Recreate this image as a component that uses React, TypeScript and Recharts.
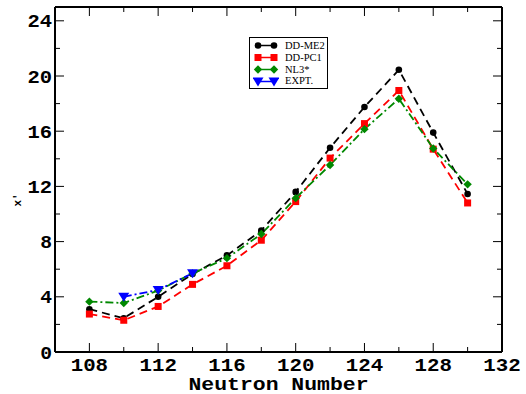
import { LineChart, Line, XAxis, YAxis, Legend } from "recharts";

const neutronNumbers = [108, 110, 112, 114, 116, 118, 120, 122, 124, 126, 128, 130];
const ddme2 = [3.1, 2.45, 4.0, 5.65, 7.0, 8.8, 11.6, 14.8, 17.75, 20.45, 15.9, 11.45];
const ddpc1 = [2.75, 2.3, 3.3, 4.9, 6.25, 8.1, 10.9, 14.05, 16.55, 18.95, 14.7, 10.8];
const nl3 = [3.65, 3.55, 4.45, 5.7, 6.8, 8.55, 11.15, 13.55, 16.15, 18.35, 14.75, 12.15];
const expt = [null, 4.0, 4.5, 5.7, null, null, null, null, null, null, null, null];

const xTicks = [108, 110, 112, 114, 116, 118, 120, 122, 124, 126, 128, 130, 132];
const yTicks = [0, 2, 4, 6, 8, 10, 12, 14, 16, 18, 20, 22, 24];

const data = neutronNumbers.map((n, i) => ({
  n,
  ddme2: ddme2[i],
  ddpc1: ddpc1[i],
  nl3: nl3[i],
  expt: expt[i],
}));

const W = 526;
const H = 394;
const L = 55;
const T = 7;
const R = 502;
const B = 352;

const tickFont = {
  fontFamily: "'Liberation Mono', 'DejaVu Sans Mono', monospace",
  fontWeight: "bold" as const,
  fontSize: 18,
  fill: "#000",
};

// the reference font is wider than Liberation Mono, so stretch each label a little
const charWidth = 12.8;

const BottomTick = ({ x, payload }: any) => {
  const major = payload.value % 4 === 0;
  const label = String(payload.value);
  return (
    <g>
      <line x1={x} x2={x} y1={B} y2={B - (major ? 9 : 5)} stroke="#000" strokeWidth={1} />
      {major && (
        <text
          x={x}
          y={371}
          textAnchor="middle"
          textLength={label.length * charWidth - 1}
          lengthAdjust="spacingAndGlyphs"
          {...tickFont}
        >
          {label}
        </text>
      )}
    </g>
  );
};

const TopTick = ({ x, payload }: any) => {
  const major = payload.value % 4 === 0;
  return <line x1={x} x2={x} y1={T} y2={T + (major ? 9 : 5)} stroke="#000" strokeWidth={1} />;
};

const LeftTick = ({ y, payload }: any) => {
  const major = payload.value % 4 === 0;
  const label = String(payload.value);
  return (
    <g>
      <line x1={L} x2={L + (major ? 9 : 5)} y1={y} y2={y} stroke="#000" strokeWidth={1} />
      {major && (
        <text
          x={52}
          y={y + 6.5}
          textAnchor="end"
          textLength={label.length * charWidth - 1}
          lengthAdjust="spacingAndGlyphs"
          {...tickFont}
        >
          {label}
        </text>
      )}
    </g>
  );
};

const RightTick = ({ y, payload }: any) => {
  const major = payload.value % 4 === 0;
  return <line x1={R} x2={R - (major ? 9 : 5)} y1={y} y2={y} stroke="#000" strokeWidth={1} />;
};

const CircleDot = ({ cx, cy }: any) =>
  cx == null || cy == null ? null : <circle cx={cx} cy={cy} r={3.3} fill="#000" />;

const SquareDot = ({ cx, cy }: any) =>
  cx == null || cy == null ? null : <rect x={cx - 3.5} y={cy - 3.5} width={7} height={7} fill="#ff0000" />;

const DiamondDot = ({ cx, cy }: any) =>
  cx == null || cy == null ? null : (
    <polygon points={`${cx},${cy - 4.2} ${cx + 4.2},${cy} ${cx},${cy + 4.2} ${cx - 4.2},${cy}`} fill="#008800" />
  );

const TriangleDot = ({ cx, cy }: any) =>
  cx == null || cy == null ? null : (
    <polygon points={`${cx - 5.5},${cy - 4} ${cx + 5.5},${cy - 4} ${cx},${cy + 5}`} fill="#0000ff" />
  );

const legendItems = [
  { name: "DD-ME2", color: "#000", Dot: CircleDot },
  { name: "DD-PC1", color: "#ff0000", Dot: SquareDot },
  { name: "NL3*", color: "#008800", Dot: DiamondDot },
  { name: "EXPT.", color: "#0000ff", Dot: TriangleDot },
];

const LegendBox = () => (
  <div
    style={{
      border: "1px solid #000",
      background: "#fff",
      width: 79,
      height: 52,
      boxSizing: "border-box",
      padding: "2px 0 0 3px",
      fontFamily: "'Liberation Serif', 'DejaVu Serif', serif",
      fontSize: 10.5,
      color: "#000",
    }}
  >
    {legendItems.map(({ name, color, Dot }) => (
      <div key={name} style={{ display: "flex", alignItems: "center", height: 11.8, lineHeight: "11.8px" }}>
        <svg width={26} height={11} style={{ marginRight: 6 }}>
          <line x1={5} x2={21} y1={5.5} y2={5.5} stroke={color} strokeWidth={1.5} />
          <Dot cx={5} cy={5.5} />
          <Dot cx={21} cy={5.5} />
        </svg>
        <span>{name}</span>
      </div>
    ))}
  </div>
);

const App = () => {
  return (
    <div style={{ width: W, height: H, background: "#fff" }}>
      <style>{`body { margin: 0; }`}</style>
      <LineChart width={W} height={H} data={data} margin={{ top: 0, right: 0, left: 0, bottom: 0 }}>
        <XAxis
          dataKey="n"
          type="number"
          domain={[106, 132]}
          ticks={xTicks}
          height={H - B}
          axisLine={{ stroke: "#000", strokeWidth: 2 }}
          tickLine={false}
          tick={<BottomTick />}
          interval={0}
          allowDataOverflow
          label={{
            value: "Neutron Number",
            content: () => (
              <text
                x={(L + R) / 2}
                y={390}
                textAnchor="middle"
                textLength={180}
                lengthAdjust="spacingAndGlyphs"
                {...tickFont}
              >
                Neutron Number
              </text>
            ),
          }}
        />
        <XAxis
          xAxisId="top"
          dataKey="n"
          type="number"
          orientation="top"
          domain={[106, 132]}
          ticks={xTicks}
          height={T}
          axisLine={{ stroke: "#000", strokeWidth: 2 }}
          tickLine={false}
          tick={<TopTick />}
          interval={0}
          allowDataOverflow
        />
        <YAxis
          type="number"
          domain={[0, 25]}
          ticks={yTicks}
          width={L}
          axisLine={{ stroke: "#000", strokeWidth: 2 }}
          tickLine={false}
          tick={<LeftTick />}
          interval={0}
          allowDataOverflow
          label={{
            value: "x'",
            content: () => (
              <text
                x={21}
                y={200}
                transform="rotate(-90 21 200)"
                textAnchor="middle"
                fontFamily="'Liberation Mono', monospace"
                fontWeight="bold"
                fontSize={11}
              >
                x'
              </text>
            ),
          }}
        />
        <YAxis
          yAxisId="right"
          type="number"
          orientation="right"
          domain={[0, 25]}
          ticks={yTicks}
          width={W - R}
          axisLine={{ stroke: "#000", strokeWidth: 2 }}
          tickLine={false}
          tick={<RightTick />}
          interval={0}
          allowDataOverflow
        />
        <Legend
          layout="vertical"
          align="center"
          verticalAlign="middle"
          content={() => <LegendBox />}
          wrapperStyle={{ position: "absolute", left: 249, top: 37, width: 79, height: 52 }}
        />
        <Line
          dataKey="ddme2"
          name="DD-ME2"
          stroke="#000"
          strokeWidth={1.8}
          strokeDasharray="8 5"
          dot={<CircleDot />}
          isAnimationActive={false}
        />
        <Line
          dataKey="ddpc1"
          name="DD-PC1"
          stroke="#ff0000"
          strokeWidth={1.8}
          strokeDasharray="8 5"
          dot={<SquareDot />}
          isAnimationActive={false}
        />
        <Line
          dataKey="nl3"
          name="NL3*"
          stroke="#008800"
          strokeWidth={1.8}
          strokeDasharray="8 3 2 3"
          dot={<DiamondDot />}
          isAnimationActive={false}
        />
        <Line
          dataKey="expt"
          name="EXPT."
          stroke="#0000ff"
          strokeWidth={1.8}
          strokeDasharray="8 3 2 3"
          dot={<TriangleDot />}
          isAnimationActive={false}
        />
      </LineChart>
    </div>
  );
};

export default App;
